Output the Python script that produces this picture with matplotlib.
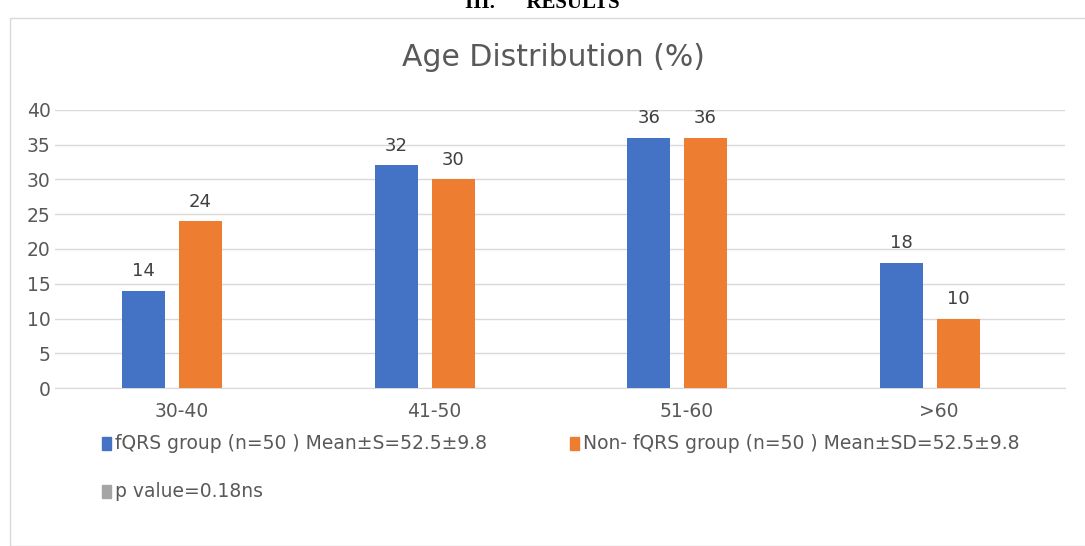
import matplotlib.pyplot as plt
from matplotlib.patches import Rectangle

categories = ["30-40", "41-50", "51-60", ">60"]
fqrs = [14, 32, 36, 18]
nonfqrs = [24, 30, 36, 10]
pval = [0, 0, 0, 0]
labels = ["fQRS group (n=50 ) Mean±S=52.5±9.8",
          "Non- fQRS group (n=50 ) Mean±SD=52.5±9.8",
          "p value=0.18ns"]
colors = ["#4472C4", "#ED7D31", "#A5A5A5"]

fig = plt.figure(figsize=(10.85, 5.46), dpi=100)
fig.patches.append(Rectangle((10/1085, 0), 1.2, (546-18)/546, transform=fig.transFigure,
                             fill=False, edgecolor="#D9D9D9", lw=1))
fig.text(0.5, 0.995, "III.      RESULTS", ha="center", va="center", fontsize=15,
         fontweight="bold", family="Liberation Serif")
ax = fig.add_axes([0.051, 0.289, 0.931, 0.51])
x = list(range(len(categories)))
w = 0.17
offs = [-0.15, 0.075, 0.30]
for vals, off, c in zip([fqrs, nonfqrs, pval], offs, colors):
    bars = ax.bar([i + off for i in x], vals, width=w, color=c, zorder=3)
    if vals is not pval:
        for b, v in zip(bars, vals):
            ax.text(b.get_x() + b.get_width()/2, v + 1.5, str(v), ha="center",
                    va="bottom", fontsize=13, color="#404040")
ax.set_xlim(-0.5, 3.5)
ax.set_ylim(0, 40)
ax.set_yticks(range(0, 41, 5))
ax.set_xticks(x)
ax.set_xticklabels(categories)
ax.tick_params(length=0, labelsize=13.5, labelcolor="#595959")
ax.tick_params(axis="x", pad=10)
ax.grid(axis="y", color="#D9D9D9", lw=1, zorder=0)
for s in ["top", "right", "left"]:
    ax.spines[s].set_visible(False)
ax.spines["bottom"].set_color("#D9D9D9")
fig.text(0.51, 0.895, "Age Distribution (%)", ha="center", va="center",
         fontsize=21.5, color="#595959")
def sq(fx, fy, c, t):
    fig.patches.append(Rectangle((fx, fy - 0.012), 0.0085, 0.0245, transform=fig.transFigure,
                                 color=c))
    fig.text(fx + 0.012, fy, t, va="center", fontsize=13.5, color="#595959")
sq(0.094, 0.188, colors[0], labels[0])
sq(0.525, 0.188, colors[1], labels[1])
sq(0.094, 0.100, colors[2], labels[2])
fig.savefig("out.png", dpi=100)
